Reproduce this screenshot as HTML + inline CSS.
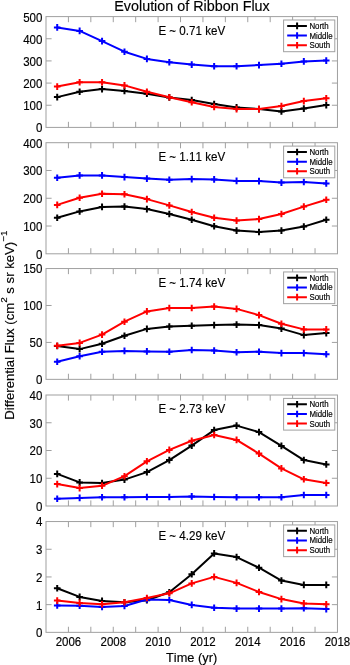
<!DOCTYPE html><html><head><meta charset="utf-8"><style>html,body{margin:0;padding:0;background:#fff;width:350px;height:665px;overflow:hidden}svg{display:block;will-change:transform}text{font-family:"Liberation Sans",sans-serif;stroke:#000;stroke-width:0.15px;font-kerning:none}</style></head><body>
<svg width="350" height="665" viewBox="0 0 350 665">
<rect width="350" height="665" fill="#fff"/>
<path d="M68.42 127.4V121.8M68.42 16.6V22.2M90.84 127.4V121.8M90.84 16.6V22.2M113.26 127.4V121.8M113.26 16.6V22.2M135.68 127.4V121.8M135.68 16.6V22.2M158.1 127.4V121.8M158.1 16.6V22.2M180.52 127.4V121.8M180.52 16.6V22.2M202.94 127.4V121.8M202.94 16.6V22.2M225.36 127.4V121.8M225.36 16.6V22.2M247.78 127.4V121.8M247.78 16.6V22.2M270.2 127.4V121.8M270.2 16.6V22.2M292.62 127.4V121.8M292.62 16.6V22.2M315.04 127.4V121.8M315.04 16.6V22.2M46 105.24H51.6M337.46 105.24H331.86M46 83.08H51.6M337.46 83.08H331.86M46 60.92H51.6M337.46 60.92H331.86M46 38.76H51.6M337.46 38.76H331.86" stroke="#a0a0a0" stroke-width="1" fill="none"/>
<rect x="46" y="16.6" width="291.46" height="110.8" stroke="#a0a0a0" stroke-width="1" fill="none"/>
<text transform="translate(42.4 132.3) scale(1 1.045)" font-size="11.5" text-anchor="end">0</text>
<text transform="translate(42.4 110.14) scale(1 1.045)" font-size="11.5" text-anchor="end">100</text>
<text transform="translate(42.4 87.98) scale(1 1.045)" font-size="11.5" text-anchor="end">200</text>
<text transform="translate(42.4 65.82) scale(1 1.045)" font-size="11.5" text-anchor="end">300</text>
<text transform="translate(42.4 43.66) scale(1 1.045)" font-size="11.5" text-anchor="end">400</text>
<text transform="translate(42.4 21.5) scale(1 1.045)" font-size="11.5" text-anchor="end">500</text>
<text transform="translate(158.4 35.05) scale(1 1.045)" font-size="11.6">E ~ 0.71 keV</text>
<path d="M57.21 97.1 L79.63 91.7 L102.05 89.1 L124.47 90.9 L146.89 93.7 L169.31 97.4 L191.73 100 L214.15 104 L236.57 107.4 L258.99 109.1 L281.41 111.4 L303.83 108.6 L326.25 105.1" stroke="#000000" stroke-width="2.0" fill="none" stroke-linejoin="round"/>
<path d="M53.91 97.1h6.6M57.21 93.8v6.6M76.33 91.7h6.6M79.63 88.4v6.6M98.75 89.1h6.6M102.05 85.8v6.6M121.17 90.9h6.6M124.47 87.6v6.6M143.59 93.7h6.6M146.89 90.4v6.6M166.01 97.4h6.6M169.31 94.1v6.6M188.43 100h6.6M191.73 96.7v6.6M210.85 104h6.6M214.15 100.7v6.6M233.27 107.4h6.6M236.57 104.1v6.6M255.69 109.1h6.6M258.99 105.8v6.6M278.11 111.4h6.6M281.41 108.1v6.6M300.53 108.6h6.6M303.83 105.3v6.6M322.95 105.1h6.6M326.25 101.8v6.6" stroke="#000000" stroke-width="2.0" fill="none"/>
<path d="M57.21 27.4 L79.63 30.9 L102.05 41.1 L124.47 51.7 L146.89 58.9 L169.31 62.3 L191.73 64.6 L214.15 66.3 L236.57 66.3 L258.99 65.1 L281.41 63.7 L303.83 61.4 L326.25 60.6" stroke="#0000ff" stroke-width="2.0" fill="none" stroke-linejoin="round"/>
<path d="M53.91 27.4h6.6M57.21 24.1v6.6M76.33 30.9h6.6M79.63 27.6v6.6M98.75 41.1h6.6M102.05 37.8v6.6M121.17 51.7h6.6M124.47 48.4v6.6M143.59 58.9h6.6M146.89 55.6v6.6M166.01 62.3h6.6M169.31 59v6.6M188.43 64.6h6.6M191.73 61.3v6.6M210.85 66.3h6.6M214.15 63v6.6M233.27 66.3h6.6M236.57 63v6.6M255.69 65.1h6.6M258.99 61.8v6.6M278.11 63.7h6.6M281.41 60.4v6.6M300.53 61.4h6.6M303.83 58.1v6.6M322.95 60.6h6.6M326.25 57.3v6.6" stroke="#0000ff" stroke-width="2.0" fill="none"/>
<path d="M57.21 86.6 L79.63 82.3 L102.05 82.3 L124.47 85.4 L146.89 91.8 L169.31 97.2 L191.73 102.3 L214.15 106.9 L236.57 109.1 L258.99 109.1 L281.41 106 L303.83 101.1 L326.25 98.3" stroke="#ff0000" stroke-width="2.0" fill="none" stroke-linejoin="round"/>
<path d="M53.91 86.6h6.6M57.21 83.3v6.6M76.33 82.3h6.6M79.63 79v6.6M98.75 82.3h6.6M102.05 79v6.6M121.17 85.4h6.6M124.47 82.1v6.6M143.59 91.8h6.6M146.89 88.5v6.6M166.01 97.2h6.6M169.31 93.9v6.6M188.43 102.3h6.6M191.73 99v6.6M210.85 106.9h6.6M214.15 103.6v6.6M233.27 109.1h6.6M236.57 105.8v6.6M255.69 109.1h6.6M258.99 105.8v6.6M278.11 106h6.6M281.41 102.7v6.6M300.53 101.1h6.6M303.83 97.8v6.6M322.95 98.3h6.6M326.25 95v6.6" stroke="#ff0000" stroke-width="2.0" fill="none"/>
<rect x="283.6" y="20" width="51.2" height="31.7" fill="#fff" stroke="#a0a0a0" stroke-width="1"/>
<path d="M287.2 25.9H306.9M297.1 22.6v6.6" stroke="#000000" stroke-width="2.0" fill="none"/>
<text transform="translate(309.4 28.85) scale(1 1.1)" font-size="7.9">North</text>
<path d="M287.2 35.55H306.9M297.1 32.25v6.6" stroke="#0000ff" stroke-width="2.0" fill="none"/>
<text transform="translate(309.4 38.5) scale(1 1.1)" font-size="7.9">Middle</text>
<path d="M287.2 45.2H306.9M297.1 41.9v6.6" stroke="#ff0000" stroke-width="2.0" fill="none"/>
<text transform="translate(309.4 48.15) scale(1 1.1)" font-size="7.9">South</text>
<path d="M68.42 253.8V248.2M68.42 142.7V148.3M90.84 253.8V248.2M90.84 142.7V148.3M113.26 253.8V248.2M113.26 142.7V148.3M135.68 253.8V248.2M135.68 142.7V148.3M158.1 253.8V248.2M158.1 142.7V148.3M180.52 253.8V248.2M180.52 142.7V148.3M202.94 253.8V248.2M202.94 142.7V148.3M225.36 253.8V248.2M225.36 142.7V148.3M247.78 253.8V248.2M247.78 142.7V148.3M270.2 253.8V248.2M270.2 142.7V148.3M292.62 253.8V248.2M292.62 142.7V148.3M315.04 253.8V248.2M315.04 142.7V148.3M46 226.03H51.6M337.46 226.03H331.86M46 198.25H51.6M337.46 198.25H331.86M46 170.47H51.6M337.46 170.47H331.86" stroke="#a0a0a0" stroke-width="1" fill="none"/>
<rect x="46" y="142.7" width="291.46" height="111.1" stroke="#a0a0a0" stroke-width="1" fill="none"/>
<text transform="translate(42.4 258.7) scale(1 1.045)" font-size="11.5" text-anchor="end">0</text>
<text transform="translate(42.4 230.93) scale(1 1.045)" font-size="11.5" text-anchor="end">100</text>
<text transform="translate(42.4 203.15) scale(1 1.045)" font-size="11.5" text-anchor="end">200</text>
<text transform="translate(42.4 175.38) scale(1 1.045)" font-size="11.5" text-anchor="end">300</text>
<text transform="translate(42.4 147.6) scale(1 1.045)" font-size="11.5" text-anchor="end">400</text>
<text transform="translate(158.4 161.15) scale(1 1.045)" font-size="11.6">E ~ 1.11 keV</text>
<path d="M57.21 217.7 L79.63 211.4 L102.05 206.9 L124.47 206.6 L146.89 209.1 L169.31 214 L191.73 219.7 L214.15 226.3 L236.57 230.6 L258.99 232 L281.41 230.6 L303.83 226.6 L326.25 219.7" stroke="#000000" stroke-width="2.0" fill="none" stroke-linejoin="round"/>
<path d="M53.91 217.7h6.6M57.21 214.4v6.6M76.33 211.4h6.6M79.63 208.1v6.6M98.75 206.9h6.6M102.05 203.6v6.6M121.17 206.6h6.6M124.47 203.3v6.6M143.59 209.1h6.6M146.89 205.8v6.6M166.01 214h6.6M169.31 210.7v6.6M188.43 219.7h6.6M191.73 216.4v6.6M210.85 226.3h6.6M214.15 223v6.6M233.27 230.6h6.6M236.57 227.3v6.6M255.69 232h6.6M258.99 228.7v6.6M278.11 230.6h6.6M281.41 227.3v6.6M300.53 226.6h6.6M303.83 223.3v6.6M322.95 219.7h6.6M326.25 216.4v6.6" stroke="#000000" stroke-width="2.0" fill="none"/>
<path d="M57.21 177.7 L79.63 175.4 L102.05 175.4 L124.47 177.1 L146.89 178.6 L169.31 179.7 L191.73 179.1 L214.15 179.4 L236.57 180.9 L258.99 181.1 L281.41 182.6 L303.83 182 L326.25 183.4" stroke="#0000ff" stroke-width="2.0" fill="none" stroke-linejoin="round"/>
<path d="M53.91 177.7h6.6M57.21 174.4v6.6M76.33 175.4h6.6M79.63 172.1v6.6M98.75 175.4h6.6M102.05 172.1v6.6M121.17 177.1h6.6M124.47 173.8v6.6M143.59 178.6h6.6M146.89 175.3v6.6M166.01 179.7h6.6M169.31 176.4v6.6M188.43 179.1h6.6M191.73 175.8v6.6M210.85 179.4h6.6M214.15 176.1v6.6M233.27 180.9h6.6M236.57 177.6v6.6M255.69 181.1h6.6M258.99 177.8v6.6M278.11 182.6h6.6M281.41 179.3v6.6M300.53 182h6.6M303.83 178.7v6.6M322.95 183.4h6.6M326.25 180.1v6.6" stroke="#0000ff" stroke-width="2.0" fill="none"/>
<path d="M57.21 204.9 L79.63 197.7 L102.05 193.7 L124.47 194.3 L146.89 199.1 L169.31 205.4 L191.73 212 L214.15 217.7 L236.57 220.6 L258.99 219.1 L281.41 214 L303.83 206.6 L326.25 199.7" stroke="#ff0000" stroke-width="2.0" fill="none" stroke-linejoin="round"/>
<path d="M53.91 204.9h6.6M57.21 201.6v6.6M76.33 197.7h6.6M79.63 194.4v6.6M98.75 193.7h6.6M102.05 190.4v6.6M121.17 194.3h6.6M124.47 191v6.6M143.59 199.1h6.6M146.89 195.8v6.6M166.01 205.4h6.6M169.31 202.1v6.6M188.43 212h6.6M191.73 208.7v6.6M210.85 217.7h6.6M214.15 214.4v6.6M233.27 220.6h6.6M236.57 217.3v6.6M255.69 219.1h6.6M258.99 215.8v6.6M278.11 214h6.6M281.41 210.7v6.6M300.53 206.6h6.6M303.83 203.3v6.6M322.95 199.7h6.6M326.25 196.4v6.6" stroke="#ff0000" stroke-width="2.0" fill="none"/>
<rect x="283.6" y="146.1" width="51.2" height="31.7" fill="#fff" stroke="#a0a0a0" stroke-width="1"/>
<path d="M287.2 152H306.9M297.1 148.7v6.6" stroke="#000000" stroke-width="2.0" fill="none"/>
<text transform="translate(309.4 154.95) scale(1 1.1)" font-size="7.9">North</text>
<path d="M287.2 161.65H306.9M297.1 158.35v6.6" stroke="#0000ff" stroke-width="2.0" fill="none"/>
<text transform="translate(309.4 164.6) scale(1 1.1)" font-size="7.9">Middle</text>
<path d="M287.2 171.3H306.9M297.1 168v6.6" stroke="#ff0000" stroke-width="2.0" fill="none"/>
<text transform="translate(309.4 174.25) scale(1 1.1)" font-size="7.9">South</text>
<path d="M68.42 379.35V373.75M68.42 268.55V274.15M90.84 379.35V373.75M90.84 268.55V274.15M113.26 379.35V373.75M113.26 268.55V274.15M135.68 379.35V373.75M135.68 268.55V274.15M158.1 379.35V373.75M158.1 268.55V274.15M180.52 379.35V373.75M180.52 268.55V274.15M202.94 379.35V373.75M202.94 268.55V274.15M225.36 379.35V373.75M225.36 268.55V274.15M247.78 379.35V373.75M247.78 268.55V274.15M270.2 379.35V373.75M270.2 268.55V274.15M292.62 379.35V373.75M292.62 268.55V274.15M315.04 379.35V373.75M315.04 268.55V274.15M46 342.42H51.6M337.46 342.42H331.86M46 305.48H51.6M337.46 305.48H331.86" stroke="#a0a0a0" stroke-width="1" fill="none"/>
<rect x="46" y="268.55" width="291.46" height="110.8" stroke="#a0a0a0" stroke-width="1" fill="none"/>
<text transform="translate(42.4 384.25) scale(1 1.045)" font-size="11.5" text-anchor="end">0</text>
<text transform="translate(42.4 347.32) scale(1 1.045)" font-size="11.5" text-anchor="end">50</text>
<text transform="translate(42.4 310.38) scale(1 1.045)" font-size="11.5" text-anchor="end">100</text>
<text transform="translate(42.4 273.45) scale(1 1.045)" font-size="11.5" text-anchor="end">150</text>
<text transform="translate(158.4 287) scale(1 1.045)" font-size="11.6">E ~ 1.74 keV</text>
<path d="M57.21 346 L79.63 349.1 L102.05 343.7 L124.47 335.7 L146.89 328.9 L169.31 326.6 L191.73 325.7 L214.15 325.1 L236.57 324.6 L258.99 325.1 L281.41 328.6 L303.83 335.1 L326.25 333.1" stroke="#000000" stroke-width="2.0" fill="none" stroke-linejoin="round"/>
<path d="M53.91 346h6.6M57.21 342.7v6.6M76.33 349.1h6.6M79.63 345.8v6.6M98.75 343.7h6.6M102.05 340.4v6.6M121.17 335.7h6.6M124.47 332.4v6.6M143.59 328.9h6.6M146.89 325.6v6.6M166.01 326.6h6.6M169.31 323.3v6.6M188.43 325.7h6.6M191.73 322.4v6.6M210.85 325.1h6.6M214.15 321.8v6.6M233.27 324.6h6.6M236.57 321.3v6.6M255.69 325.1h6.6M258.99 321.8v6.6M278.11 328.6h6.6M281.41 325.3v6.6M300.53 335.1h6.6M303.83 331.8v6.6M322.95 333.1h6.6M326.25 329.8v6.6" stroke="#000000" stroke-width="2.0" fill="none"/>
<path d="M57.21 361.7 L79.63 356.3 L102.05 351.7 L124.47 350.9 L146.89 351.4 L169.31 351.7 L191.73 350 L214.15 350.6 L236.57 352.3 L258.99 351.7 L281.41 353.1 L303.83 353.1 L326.25 354.3" stroke="#0000ff" stroke-width="2.0" fill="none" stroke-linejoin="round"/>
<path d="M53.91 361.7h6.6M57.21 358.4v6.6M76.33 356.3h6.6M79.63 353v6.6M98.75 351.7h6.6M102.05 348.4v6.6M121.17 350.9h6.6M124.47 347.6v6.6M143.59 351.4h6.6M146.89 348.1v6.6M166.01 351.7h6.6M169.31 348.4v6.6M188.43 350h6.6M191.73 346.7v6.6M210.85 350.6h6.6M214.15 347.3v6.6M233.27 352.3h6.6M236.57 349v6.6M255.69 351.7h6.6M258.99 348.4v6.6M278.11 353.1h6.6M281.41 349.8v6.6M300.53 353.1h6.6M303.83 349.8v6.6M322.95 354.3h6.6M326.25 351v6.6" stroke="#0000ff" stroke-width="2.0" fill="none"/>
<path d="M57.21 345.7 L79.63 342.9 L102.05 334.6 L124.47 321.7 L146.89 311.4 L169.31 308 L191.73 308 L214.15 306.6 L236.57 308.9 L258.99 315.1 L281.41 323.7 L303.83 329.4 L326.25 329.4" stroke="#ff0000" stroke-width="2.0" fill="none" stroke-linejoin="round"/>
<path d="M53.91 345.7h6.6M57.21 342.4v6.6M76.33 342.9h6.6M79.63 339.6v6.6M98.75 334.6h6.6M102.05 331.3v6.6M121.17 321.7h6.6M124.47 318.4v6.6M143.59 311.4h6.6M146.89 308.1v6.6M166.01 308h6.6M169.31 304.7v6.6M188.43 308h6.6M191.73 304.7v6.6M210.85 306.6h6.6M214.15 303.3v6.6M233.27 308.9h6.6M236.57 305.6v6.6M255.69 315.1h6.6M258.99 311.8v6.6M278.11 323.7h6.6M281.41 320.4v6.6M300.53 329.4h6.6M303.83 326.1v6.6M322.95 329.4h6.6M326.25 326.1v6.6" stroke="#ff0000" stroke-width="2.0" fill="none"/>
<rect x="283.6" y="271.95" width="51.2" height="31.7" fill="#fff" stroke="#a0a0a0" stroke-width="1"/>
<path d="M287.2 277.85H306.9M297.1 274.55v6.6" stroke="#000000" stroke-width="2.0" fill="none"/>
<text transform="translate(309.4 280.8) scale(1 1.1)" font-size="7.9">North</text>
<path d="M287.2 287.5H306.9M297.1 284.2v6.6" stroke="#0000ff" stroke-width="2.0" fill="none"/>
<text transform="translate(309.4 290.45) scale(1 1.1)" font-size="7.9">Middle</text>
<path d="M287.2 297.15H306.9M297.1 293.85v6.6" stroke="#ff0000" stroke-width="2.0" fill="none"/>
<text transform="translate(309.4 300.1) scale(1 1.1)" font-size="7.9">South</text>
<path d="M68.42 506V500.4M68.42 395V400.6M90.84 506V500.4M90.84 395V400.6M113.26 506V500.4M113.26 395V400.6M135.68 506V500.4M135.68 395V400.6M158.1 506V500.4M158.1 395V400.6M180.52 506V500.4M180.52 395V400.6M202.94 506V500.4M202.94 395V400.6M225.36 506V500.4M225.36 395V400.6M247.78 506V500.4M247.78 395V400.6M270.2 506V500.4M270.2 395V400.6M292.62 506V500.4M292.62 395V400.6M315.04 506V500.4M315.04 395V400.6M46 478.25H51.6M337.46 478.25H331.86M46 450.5H51.6M337.46 450.5H331.86M46 422.75H51.6M337.46 422.75H331.86" stroke="#a0a0a0" stroke-width="1" fill="none"/>
<rect x="46" y="395" width="291.46" height="111" stroke="#a0a0a0" stroke-width="1" fill="none"/>
<text transform="translate(42.4 510.9) scale(1 1.045)" font-size="11.5" text-anchor="end">0</text>
<text transform="translate(42.4 483.15) scale(1 1.045)" font-size="11.5" text-anchor="end">10</text>
<text transform="translate(42.4 455.4) scale(1 1.045)" font-size="11.5" text-anchor="end">20</text>
<text transform="translate(42.4 427.65) scale(1 1.045)" font-size="11.5" text-anchor="end">30</text>
<text transform="translate(42.4 399.9) scale(1 1.045)" font-size="11.5" text-anchor="end">40</text>
<text transform="translate(158.4 413.45) scale(1 1.045)" font-size="11.6">E ~ 2.73 keV</text>
<path d="M57.21 473.9 L79.63 482.4 L102.05 483.1 L124.47 479.6 L146.89 472.1 L169.31 460.1 L191.73 445.6 L214.15 430.1 L236.57 425.6 L258.99 432.1 L281.41 445.9 L303.83 460.1 L326.25 464.4" stroke="#000000" stroke-width="2.0" fill="none" stroke-linejoin="round"/>
<path d="M53.91 473.9h6.6M57.21 470.6v6.6M76.33 482.4h6.6M79.63 479.1v6.6M98.75 483.1h6.6M102.05 479.8v6.6M121.17 479.6h6.6M124.47 476.3v6.6M143.59 472.1h6.6M146.89 468.8v6.6M166.01 460.1h6.6M169.31 456.8v6.6M188.43 445.6h6.6M191.73 442.3v6.6M210.85 430.1h6.6M214.15 426.8v6.6M233.27 425.6h6.6M236.57 422.3v6.6M255.69 432.1h6.6M258.99 428.8v6.6M278.11 445.9h6.6M281.41 442.6v6.6M300.53 460.1h6.6M303.83 456.8v6.6M322.95 464.4h6.6M326.25 461.1v6.6" stroke="#000000" stroke-width="2.0" fill="none"/>
<path d="M57.21 498.7 L79.63 497.9 L102.05 497.3 L124.47 497.3 L146.89 497 L169.31 497 L191.73 496.4 L214.15 497 L236.57 497.3 L258.99 497.3 L281.41 497.3 L303.83 495 L326.25 495" stroke="#0000ff" stroke-width="2.0" fill="none" stroke-linejoin="round"/>
<path d="M53.91 498.7h6.6M57.21 495.4v6.6M76.33 497.9h6.6M79.63 494.6v6.6M98.75 497.3h6.6M102.05 494v6.6M121.17 497.3h6.6M124.47 494v6.6M143.59 497h6.6M146.89 493.7v6.6M166.01 497h6.6M169.31 493.7v6.6M188.43 496.4h6.6M191.73 493.1v6.6M210.85 497h6.6M214.15 493.7v6.6M233.27 497.3h6.6M236.57 494v6.6M255.69 497.3h6.6M258.99 494v6.6M278.11 497.3h6.6M281.41 494v6.6M300.53 495h6.6M303.83 491.7v6.6M322.95 495h6.6M326.25 491.7v6.6" stroke="#0000ff" stroke-width="2.0" fill="none"/>
<path d="M57.21 484.1 L79.63 488.1 L102.05 485.8 L124.47 476.2 L146.89 461.3 L169.31 449.9 L191.73 440.7 L214.15 435 L236.57 439.9 L258.99 453.6 L281.41 468.4 L303.83 479.3 L326.25 483" stroke="#ff0000" stroke-width="2.0" fill="none" stroke-linejoin="round"/>
<path d="M53.91 484.1h6.6M57.21 480.8v6.6M76.33 488.1h6.6M79.63 484.8v6.6M98.75 485.8h6.6M102.05 482.5v6.6M121.17 476.2h6.6M124.47 472.9v6.6M143.59 461.3h6.6M146.89 458v6.6M166.01 449.9h6.6M169.31 446.6v6.6M188.43 440.7h6.6M191.73 437.4v6.6M210.85 435h6.6M214.15 431.7v6.6M233.27 439.9h6.6M236.57 436.6v6.6M255.69 453.6h6.6M258.99 450.3v6.6M278.11 468.4h6.6M281.41 465.1v6.6M300.53 479.3h6.6M303.83 476v6.6M322.95 483h6.6M326.25 479.7v6.6" stroke="#ff0000" stroke-width="2.0" fill="none"/>
<rect x="283.6" y="398.4" width="51.2" height="31.7" fill="#fff" stroke="#a0a0a0" stroke-width="1"/>
<path d="M287.2 404.3H306.9M297.1 401v6.6" stroke="#000000" stroke-width="2.0" fill="none"/>
<text transform="translate(309.4 407.25) scale(1 1.1)" font-size="7.9">North</text>
<path d="M287.2 413.95H306.9M297.1 410.65v6.6" stroke="#0000ff" stroke-width="2.0" fill="none"/>
<text transform="translate(309.4 416.9) scale(1 1.1)" font-size="7.9">Middle</text>
<path d="M287.2 423.6H306.9M297.1 420.3v6.6" stroke="#ff0000" stroke-width="2.0" fill="none"/>
<text transform="translate(309.4 426.55) scale(1 1.1)" font-size="7.9">South</text>
<path d="M68.42 632.35V626.75M68.42 521.55V527.15M90.84 632.35V626.75M90.84 521.55V527.15M113.26 632.35V626.75M113.26 521.55V527.15M135.68 632.35V626.75M135.68 521.55V527.15M158.1 632.35V626.75M158.1 521.55V527.15M180.52 632.35V626.75M180.52 521.55V527.15M202.94 632.35V626.75M202.94 521.55V527.15M225.36 632.35V626.75M225.36 521.55V527.15M247.78 632.35V626.75M247.78 521.55V527.15M270.2 632.35V626.75M270.2 521.55V527.15M292.62 632.35V626.75M292.62 521.55V527.15M315.04 632.35V626.75M315.04 521.55V527.15M46 604.65H51.6M337.46 604.65H331.86M46 576.95H51.6M337.46 576.95H331.86M46 549.25H51.6M337.46 549.25H331.86" stroke="#a0a0a0" stroke-width="1" fill="none"/>
<rect x="46" y="521.55" width="291.46" height="110.8" stroke="#a0a0a0" stroke-width="1" fill="none"/>
<text transform="translate(42.4 637.25) scale(1 1.045)" font-size="11.5" text-anchor="end">0</text>
<text transform="translate(42.4 609.55) scale(1 1.045)" font-size="11.5" text-anchor="end">1</text>
<text transform="translate(42.4 581.85) scale(1 1.045)" font-size="11.5" text-anchor="end">2</text>
<text transform="translate(42.4 554.15) scale(1 1.045)" font-size="11.5" text-anchor="end">3</text>
<text transform="translate(42.4 526.45) scale(1 1.045)" font-size="11.5" text-anchor="end">4</text>
<text transform="translate(158.4 540) scale(1 1.045)" font-size="11.6">E ~ 4.29 keV</text>
<path d="M57.21 588.3 L79.63 596.9 L102.05 600.9 L124.47 602.3 L146.89 600.2 L169.31 592.2 L191.73 574.3 L214.15 553.4 L236.57 557.1 L258.99 567.7 L281.41 580.6 L303.83 584.9 L326.25 584.9" stroke="#000000" stroke-width="2.0" fill="none" stroke-linejoin="round"/>
<path d="M53.91 588.3h6.6M57.21 585v6.6M76.33 596.9h6.6M79.63 593.6v6.6M98.75 600.9h6.6M102.05 597.6v6.6M121.17 602.3h6.6M124.47 599v6.6M143.59 600.2h6.6M146.89 596.9v6.6M166.01 592.2h6.6M169.31 588.9v6.6M188.43 574.3h6.6M191.73 571v6.6M210.85 553.4h6.6M214.15 550.1v6.6M233.27 557.1h6.6M236.57 553.8v6.6M255.69 567.7h6.6M258.99 564.4v6.6M278.11 580.6h6.6M281.41 577.3v6.6M300.53 584.9h6.6M303.83 581.6v6.6M322.95 584.9h6.6M326.25 581.6v6.6" stroke="#000000" stroke-width="2.0" fill="none"/>
<path d="M57.21 605.4 L79.63 605.7 L102.05 606.9 L124.47 606 L146.89 599.5 L169.31 600 L191.73 604.9 L214.15 607.7 L236.57 608.6 L258.99 608.6 L281.41 608.6 L303.83 608.3 L326.25 609.1" stroke="#0000ff" stroke-width="2.0" fill="none" stroke-linejoin="round"/>
<path d="M53.91 605.4h6.6M57.21 602.1v6.6M76.33 605.7h6.6M79.63 602.4v6.6M98.75 606.9h6.6M102.05 603.6v6.6M121.17 606h6.6M124.47 602.7v6.6M143.59 599.5h6.6M146.89 596.2v6.6M166.01 600h6.6M169.31 596.7v6.6M188.43 604.9h6.6M191.73 601.6v6.6M210.85 607.7h6.6M214.15 604.4v6.6M233.27 608.6h6.6M236.57 605.3v6.6M255.69 608.6h6.6M258.99 605.3v6.6M278.11 608.6h6.6M281.41 605.3v6.6M300.53 608.3h6.6M303.83 605v6.6M322.95 609.1h6.6M326.25 605.8v6.6" stroke="#0000ff" stroke-width="2.0" fill="none"/>
<path d="M57.21 600.6 L79.63 602.9 L102.05 604.3 L124.47 602.3 L146.89 598 L169.31 593.3 L191.73 583.4 L214.15 576.9 L236.57 582.9 L258.99 592 L281.41 599.1 L303.83 603.4 L326.25 604.3" stroke="#ff0000" stroke-width="2.0" fill="none" stroke-linejoin="round"/>
<path d="M53.91 600.6h6.6M57.21 597.3v6.6M76.33 602.9h6.6M79.63 599.6v6.6M98.75 604.3h6.6M102.05 601v6.6M121.17 602.3h6.6M124.47 599v6.6M143.59 598h6.6M146.89 594.7v6.6M166.01 593.3h6.6M169.31 590v6.6M188.43 583.4h6.6M191.73 580.1v6.6M210.85 576.9h6.6M214.15 573.6v6.6M233.27 582.9h6.6M236.57 579.6v6.6M255.69 592h6.6M258.99 588.7v6.6M278.11 599.1h6.6M281.41 595.8v6.6M300.53 603.4h6.6M303.83 600.1v6.6M322.95 604.3h6.6M326.25 601v6.6" stroke="#ff0000" stroke-width="2.0" fill="none"/>
<rect x="283.6" y="524.95" width="51.2" height="31.7" fill="#fff" stroke="#a0a0a0" stroke-width="1"/>
<path d="M287.2 530.85H306.9M297.1 527.55v6.6" stroke="#000000" stroke-width="2.0" fill="none"/>
<text transform="translate(309.4 533.8) scale(1 1.1)" font-size="7.9">North</text>
<path d="M287.2 540.5H306.9M297.1 537.2v6.6" stroke="#0000ff" stroke-width="2.0" fill="none"/>
<text transform="translate(309.4 543.45) scale(1 1.1)" font-size="7.9">Middle</text>
<path d="M287.2 550.15H306.9M297.1 546.85v6.6" stroke="#ff0000" stroke-width="2.0" fill="none"/>
<text transform="translate(309.4 553.1) scale(1 1.1)" font-size="7.9">South</text>
<text transform="translate(68.42 645.8) scale(1 1.045)" font-size="11.5" text-anchor="middle">2006</text>
<text transform="translate(113.26 645.8) scale(1 1.045)" font-size="11.5" text-anchor="middle">2008</text>
<text transform="translate(158.1 645.8) scale(1 1.045)" font-size="11.5" text-anchor="middle">2010</text>
<text transform="translate(202.94 645.8) scale(1 1.045)" font-size="11.5" text-anchor="middle">2012</text>
<text transform="translate(247.78 645.8) scale(1 1.045)" font-size="11.5" text-anchor="middle">2014</text>
<text transform="translate(292.62 645.8) scale(1 1.045)" font-size="11.5" text-anchor="middle">2016</text>
<text transform="translate(337.46 645.8) scale(1 1.045)" font-size="11.5" text-anchor="middle">2018</text>
<text transform="translate(192 10.9) scale(1 1.07)" font-size="14.35" text-anchor="middle">Evolution of Ribbon Flux</text>
<text transform="translate(191.6 662.1) scale(1 1.045)" font-size="12.8" text-anchor="middle">Time (yr)</text>
<text transform="translate(14.1 325.1) scale(1 1.045) rotate(-90)" font-size="12.6" text-anchor="middle">Differential Flux (cm<tspan font-size="9.5" dy="-7.5">2</tspan><tspan dy="7.5"> s sr keV)</tspan><tspan font-size="9.5" dy="-7.5">−1</tspan></text>
</svg></body></html>
